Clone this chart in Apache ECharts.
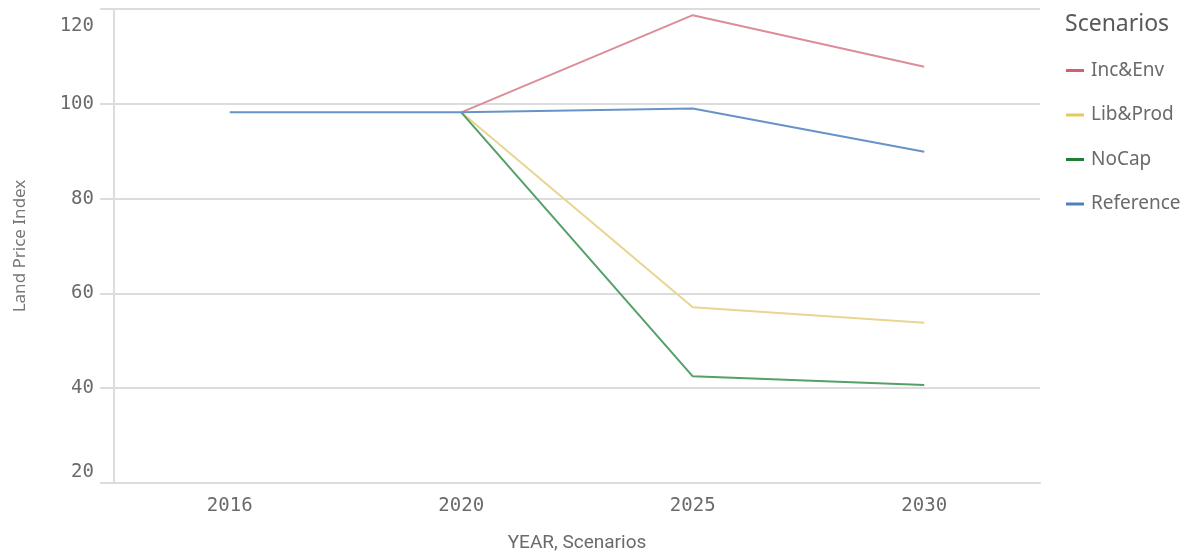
<!DOCTYPE html>
<html>
<head>
<meta charset="utf-8">
<title>Land Price Index by Scenario</title>
<script src="https://cdn.jsdelivr.net/npm/echarts@6/dist/echarts.min.js"></script>
<style>
  html, body { margin: 0; padding: 0; background: #ffffff; overflow: hidden; }
  #chart { width: 1197px; height: 558px; }
</style>
</head>
<body>
<div id="chart"></div>
<script>
// Years on the category axis
const years = ['2016', '2020', '2025', '2030'];

// Land price index per scenario (null = no value for that year)
const incEnv    = [null, 98.2, 118.7, 107.8];
const libProd   = [null, 98.2, 57.1, 53.8];
const noCap     = [null, 98.2, 42.5, 40.7];
const reference = [98.2, 98.2, 99.0, 89.9];

// Value axis range
const yMin = 20, yMax = 120, yStep = 20;

const scenarios = [
  { name: 'Inc&Env',   data: incEnv,    line: '#dc8d9a', key: '#d4606f' },
  { name: 'Lib&Prod',  data: libProd,   line: '#e9d592', key: '#e3c95e' },
  { name: 'NoCap',     data: noCap,     line: '#54a068', key: '#1f7d36' },
  { name: 'Reference', data: reference, line: '#6893c6', key: '#4c80c0' }
];

const chart = echarts.init(document.getElementById('chart'), null, { renderer: 'canvas' });

const tickFont = 'DejaVu Sans Mono, monospace';
const textFont = 'Noto Sans, Open Sans, sans-serif';
const gridColor = '#dcdcdc';

chart.setOption({
  animation: false,
  backgroundColor: '#ffffff',
  title: {
    text: 'Scenarios',
    left: 1060,
    top: 8,
    textStyle: { fontFamily: textFont, fontSize: 23, fontWeight: 'normal', color: '#595959' }
  },
  legend: {
    orient: 'vertical',
    left: 1061,
    top: 56,
    itemWidth: 18,
    itemHeight: 3,
    itemGap: 25.5,
    icon: 'rect',
    textStyle: { fontFamily: textFont, fontSize: 19, color: '#6a6a6a', padding: [0, 0, 0, 2] },
    data: scenarios.map(s => ({ name: s.name, itemStyle: { color: s.key } }))
  },
  grid: { left: 114, right: 157, top: 9, bottom: 70, containLabel: false },
  xAxis: {
    type: 'category',
    data: years,
    boundaryGap: true,
    name: 'YEAR, Scenarios',
    nameLocation: 'middle',
    nameGap: 51,
    nameTextStyle: { fontFamily: 'Roboto, sans-serif', fontSize: 19, color: '#6a6a6a' },
    axisLine: { show: true, lineStyle: { color: gridColor, width: 2 } },
    axisTick: { show: false },
    axisLabel: { fontFamily: tickFont, fontSize: 19, color: '#6a6a6a', margin: 14 }
  },
  yAxis: {
    type: 'value',
    min: yMin,
    max: yMax,
    interval: yStep,
    name: 'Land Price Index',
    nameLocation: 'middle',
    nameGap: 85,
    nameTextStyle: { fontFamily: textFont, fontSize: 17, color: '#777777' },
    axisLine: { show: true, lineStyle: { color: gridColor, width: 2 } },
    axisTick: { show: true, length: 14, lineStyle: { color: gridColor, width: 2 } },
    splitLine: { show: true, lineStyle: { color: gridColor, width: 2 } },
    axisLabel: {
      fontFamily: tickFont,
      fontSize: 19,
      color: '#6a6a6a',
      margin: 20,
      formatter: function (v) {
        if (v === yMax) return '{top|' + v + '}';
        if (v === yMin) return '{bot|' + v + '}';
        return String(v);
      },
      rich: {
        top: { fontFamily: tickFont, fontSize: 19, color: '#6a6a6a', padding: [34, 0, 0, 0] },
        bot: { fontFamily: tickFont, fontSize: 19, color: '#6a6a6a', padding: [0, 0, 21, 0] }
      }
    }
  },
  series: scenarios.map(s => ({
    name: s.name,
    type: 'line',
    data: s.data,
    symbol: 'none',
    connectNulls: false,
    lineStyle: { color: s.line, width: 2 },
    itemStyle: { color: s.key },
    z: s.name === 'Reference' ? 5 : 3
  }))
});
</script>
</body>
</html>
